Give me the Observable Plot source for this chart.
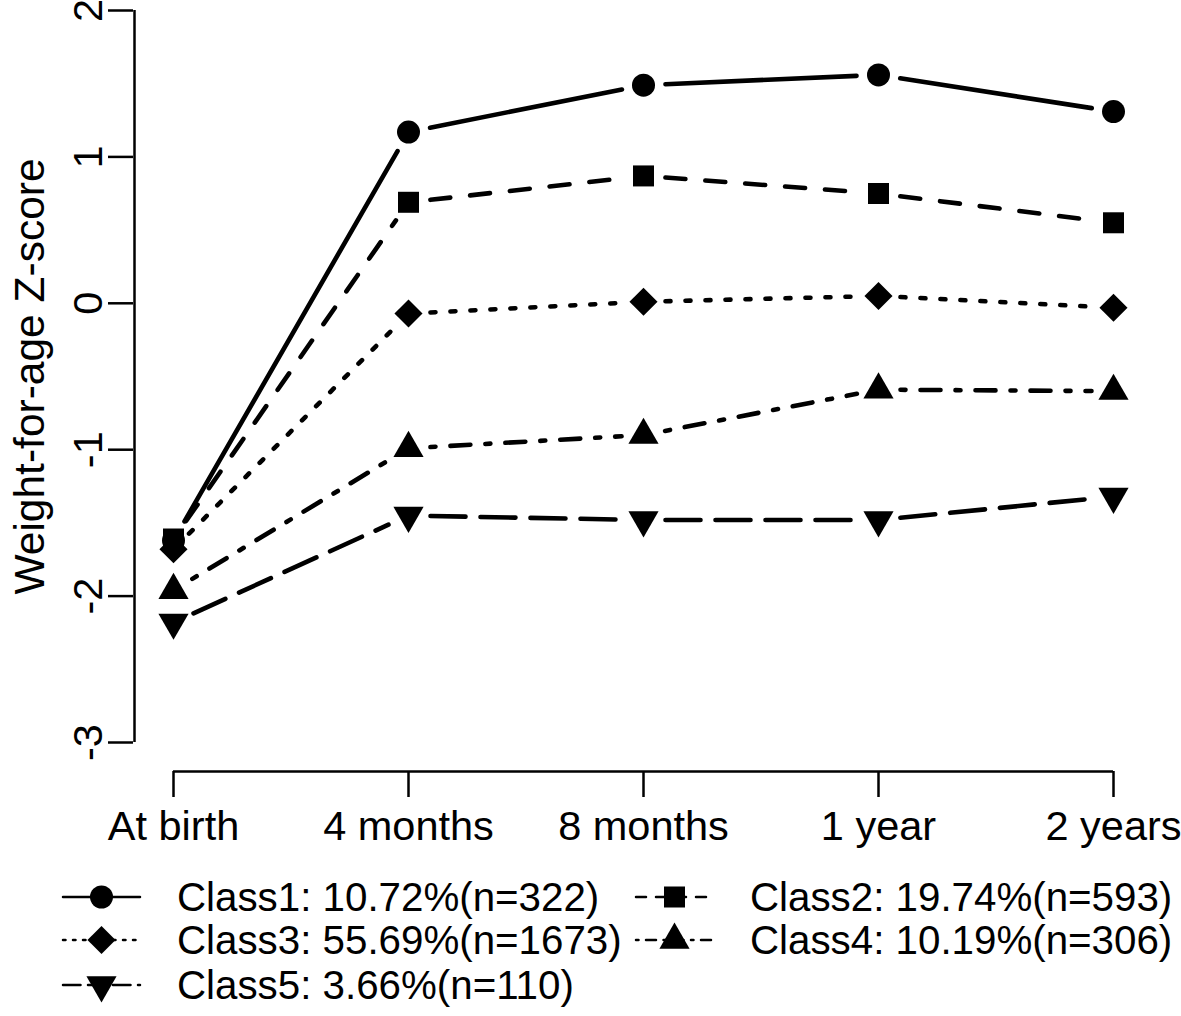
<!DOCTYPE html>
<html><head><meta charset="utf-8">
<script src="https://cdn.jsdelivr.net/npm/d3@7"></script>
<script src="https://cdn.jsdelivr.net/npm/@observablehq/plot@0.6"></script>
<style>
html,body{margin:0;padding:0;background:#fff;}
#chart{width:1181px;font-family:"Liberation Sans",Arial,Helvetica,sans-serif;}
#chart svg{display:block;}
</style></head><body><div id="chart"></div>
<script>
// ---- data ----
const timepoints = ["At birth", "4 months", "8 months", "1 year", "2 years"];
const yTicks = [-3, -2, -1, 0, 1, 2];
const yLabel = "Weight-for-age Z-score";
const classNames = ["Class1", "Class2", "Class3", "Class4", "Class5"];
const classLabels = [
  "Class1: 10.72%(n=322)",
  "Class2: 19.74%(n=593)",
  "Class3: 55.69%(n=1673)",
  "Class4: 10.19%(n=306)",
  "Class5: 3.66%(n=110)"
];
const class1 = [-1.62, 1.17, 1.49, 1.56, 1.31];
const class2 = [-1.61, 0.69, 0.87, 0.75, 0.55];
const class3 = [-1.68, -0.07, 0.01, 0.05, -0.03];
const class4 = [-1.96, -0.99, -0.90, -0.59, -0.60];
const class5 = [-2.18, -1.45, -1.48, -1.48, -1.32];
const seriesValues = [class1, class2, class3, class4, class5];

// ---- styles (R lty / pch look) ----
const FS = 41.5, LEG_FS = 40.3;
const dashUnits = [null, [4, 4], [1, 3], [1, 3, 4, 3], [7, 3]];
const symbols = ["circle", "square", "square", "triangle", "triangle"];
const rotations = [0, 0, 45, 0, 180];
const radii = [11.5, 11.85, 11.2, 11.2, 11.2];
const dashStr = (i, k) => dashUnits[i] ? dashUnits[i].map(u => u * k).join(",") : "none";

const firstT = timepoints[0], lastT = timepoints[timepoints.length - 1];
const yMin = yTicks[0], yMax = yTicks[yTicks.length - 1];

const marks = [];
// y axis: line, ticks, rotated labels, title
marks.push(Plot.ruleX([firstT], {x: d => d, y1: () => yMin, y2: () => yMax, dx: -39, stroke: "black", strokeWidth: 2.5}));
marks.push(Plot.axisY({ticks: yTicks, tickSize: 25, tickFormat: () => "", label: null, stroke: "black", strokeWidth: 2.5}));
marks.push(Plot.text(yTicks, {y: d => d, text: d => String(d), frameAnchor: "left", textAnchor: "middle", dx: -45, rotate: -90, fontSize: FS, fill: "black"}));
marks.push(Plot.text([yLabel], {text: d => d, frameAnchor: "left", textAnchor: "middle", dx: -103, rotate: -90, fontSize: FS + 1, fill: "black"}));
// x axis: line from first to last category, ticks, labels
marks.push(Plot.ruleY([yMin], {y: d => d, x1: () => firstT, x2: () => lastT, dy: 29, stroke: "black", strokeWidth: 2.5}));
marks.push(Plot.axisX({tickSize: 26, dy: 29, tickPadding: 13, fontSize: FS, label: null, stroke: "black", strokeWidth: 2.5, fill: "black"}));

seriesValues.forEach((vals, i) => {
  const pts = vals.map((v, j) => ({t: timepoints[j], v}));
  const segs = d3.pairs(pts).map(([a, b]) => ({x1: a.t, y1: a.v, x2: b.t, y2: b.v}));
  marks.push(Plot.arrow(segs, {
    x1: "x1", y1: "y1", x2: "x2", y2: "y2", bend: 0, headLength: 0,
    insetStart: 22, insetEnd: 22, stroke: "black", strokeWidth: 4.6,
    strokeLinecap: "round", strokeDasharray: dashStr(i, 5)
  }));
  marks.push(Plot.dot(pts, {x: "t", y: "v", symbol: symbols[i], r: radii[i], rotate: rotations[i], fill: "black", stroke: "none"}));
});

const plot = Plot.plot({
  width: 1181,
  height: 860,
  marginTop: 10,
  marginBottom: 118,
  marginLeft: 133,
  marginRight: 68,
  x: {type: "point", domain: timepoints, padding: 0, insetLeft: 39},
  y: {domain: [yMin, yMax]},
  style: {fontFamily: "'Liberation Sans', Arial, Helvetica, sans-serif", fontSize: FS + "px", color: "black", background: "white", overflow: "visible"},
  marks
});
document.getElementById("chart").appendChild(plot);

// ---- legend (below the plot) ----
const legW = 1181, legH = 156;
const colX = [63, 636], rowY = [37, 80, 125];
const leg = d3.create("svg").attr("width", legW).attr("height", legH)
  .attr("font-family", "'Liberation Sans', Arial, Helvetica, sans-serif").attr("font-size", LEG_FS);
const symMap = {circle: d3.symbolCircle, square: d3.symbolSquare, triangle: d3.symbolTriangle};
classLabels.forEach((lab, i) => {
  const x0 = colX[i % 2], y0 = rowY[Math.floor(i / 2)];
  const g = leg.append("g").attr("transform", `translate(${x0},${y0})`);
  g.append("line").attr("x1", 0).attr("x2", 77).attr("y1", 0).attr("y2", 0)
    .attr("stroke", "black").attr("stroke-width", 2.5).attr("stroke-linecap", "round")
    .attr("stroke-dasharray", dashStr(i, 2.5));
  g.append("path").attr("d", d3.symbol(symMap[symbols[i]], Math.PI * radii[i] * radii[i])())
    .attr("transform", `translate(38.5,0) rotate(${rotations[i]})`).attr("fill", "black");
  g.append("text").attr("x", 114).attr("y", 0).attr("dy", "0.35em").attr("fill", "black").text(lab);
});
document.getElementById("chart").appendChild(leg.node());
</script>
</body></html>
